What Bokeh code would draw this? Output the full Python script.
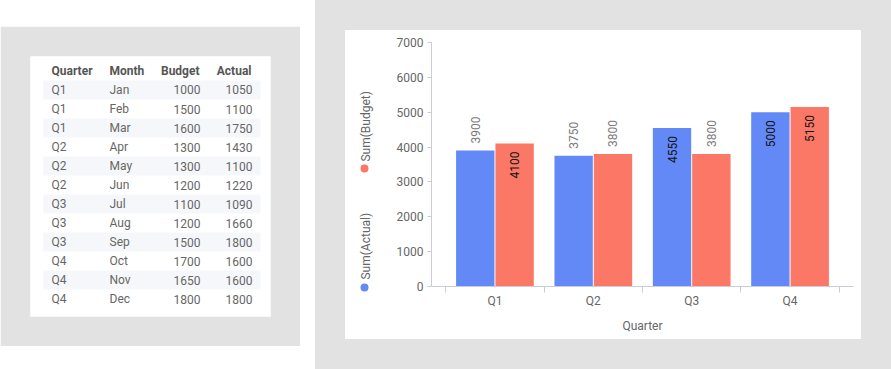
import numpy as np
from math import pi
from bokeh.plotting import figure
from bokeh.layouts import row, column
from bokeh.models import ColumnDataSource, Range1d, FixedTicker
from bokeh.core.properties import value
from bokeh.embed import file_html
from bokeh.resources import INLINE

# ---------------- data ----------------
quarters = ["Q1", "Q1", "Q1", "Q2", "Q2", "Q2", "Q3", "Q3", "Q3", "Q4", "Q4", "Q4"]
months = ["Jan", "Feb", "Mar", "Apr", "May", "Jun", "Jul", "Aug", "Sep", "Oct", "Nov", "Dec"]
budget = [1000, 1500, 1600, 1300, 1300, 1200, 1100, 1200, 1500, 1700, 1650, 1800]
actual = [1050, 1100, 1750, 1430, 1100, 1220, 1090, 1660, 1800, 1600, 1600, 1800]
table_headers = ["Quarter", "Month", "Budget", "Actual"]
quarter_labels = ["Q1", "Q2", "Q3", "Q4"]
series_names = ["Sum(Budget)", "Sum(Actual)"]
y_ticks = [0, 1000, 2000, 3000, 4000, 5000, 6000, 7000]
# label placement (style): True = label drawn inside the bar
actual_label_inside = [False, False, True, True]
budget_label_inside = [True, False, False, True]

# ---------------- style ----------------
FONT = "Roboto"
PANEL_BG = "#E2E2E2"
BAND = "#F6F7FB"
BLUE = "#6389F7"
RED = "#FB7866"
AXIS = "#CBCBD9"
TXT = "#666666"
HDR = "#555555"

# ---------------- table panel ----------------
n_rows = len(months)
t = figure(width=300, height=320, output_backend="svg", toolbar_location=None, tools="",
           x_range=Range1d(0, 240), y_range=Range1d(11.92, -1.763),
           x_axis_location=None, y_axis_location=None,
           min_border_left=30, min_border_right=30, min_border_top=30, min_border_bottom=30,
           border_fill_color=PANEL_BG, background_fill_color="white",
           outline_line_color=None, margin=(26, 15, 0, 0))
t.grid.visible = False

rows_idx = np.arange(n_rows)
band_rows = rows_idx[::2]
t.quad(left=12.7, right=230, top=band_rows - 0.5, bottom=band_rows + 0.5,
       fill_color=BAND, line_color=None)

txt_kw = dict(text_font=value(FONT), text_font_size="12px", text_baseline="middle")
t.text(x=[21, 79], y=[-1, -1], text=table_headers[:2], text_align="left",
       text_color=HDR, text_font_style="bold", **txt_kw)
t.text(x=[169, 221], y=[-1, -1], text=table_headers[2:], text_align="right",
       text_color=HDR, text_font_style="bold", **txt_kw)
t.text(x=21, y=rows_idx, text=quarters, text_align="left", text_color=TXT, **txt_kw)
t.text(x=79, y=rows_idx, text=months, text_align="left", text_color=TXT, **txt_kw)
t.text(x=170, y=rows_idx, text=[str(v) for v in budget], text_align="right", text_color=TXT, **txt_kw)
t.text(x=222, y=rows_idx, text=[str(v) for v in actual], text_align="right", text_color=TXT, **txt_kw)

# ---------------- aggregate ----------------
q_idx = np.arange(len(quarter_labels))
budget_sum = [sum(b for q, b in zip(quarters, budget) if q == ql) for ql in quarter_labels]
actual_sum = [sum(a for q, a in zip(quarters, actual) if q == ql) for ql in quarter_labels]

# ---------------- legend (rotated) ----------------
lg = figure(width=40, height=309, frame_width=40, frame_height=309,
            output_backend="svg", toolbar_location=None, tools="",
            x_range=Range1d(0, 40), y_range=Range1d(309, 0),
            x_axis_location=None, y_axis_location=None,
            min_border_left=0, min_border_right=0, min_border_top=0, min_border_bottom=0,
            border_fill_color=None, background_fill_color=None,
            outline_line_color=None, margin=(30, 0, 30, 30),
            styles={"background-color": "white"})
if "frame_align" in lg.properties():
    lg.frame_align = False
lg.grid.visible = False
lg.text(x=[20, 20], y=[131, 249], text=series_names, angle=pi / 2, text_align="left",
        text_color=TXT, **txt_kw)
lg.scatter(x=[19, 19], y=[138, 257], size=8, marker="circle", fill_color=[RED, BLUE], line_color=None)

# ---------------- chart ----------------
p = figure(width=476, height=309, output_backend="svg", toolbar_location=None, tools="",
           x_range=Range1d(-0.645, len(quarter_labels) - 1 + 0.645), y_range=Range1d(0, 7000),
           min_border_left=46, min_border_right=8, min_border_top=12, min_border_bottom=53,
           border_fill_color=None, background_fill_color=None, outline_line_color=None,
           margin=(30, 30, 30, 0), styles={"background-color": "white"})
if "frame_align" in p.properties():
    p.frame_align = False
p.grid.visible = False

off, bw = 0.2, 0.39
p.vbar(x=q_idx - off, top=actual_sum, width=bw, fill_color=BLUE, line_color=None)
p.vbar(x=q_idx + off, top=budget_sum, width=bw, fill_color=RED, line_color=None)

lab_x, lab_y, lab_t, lab_in = [], [], [], []
for i in range(len(quarter_labels)):
    lab_x += [q_idx[i] - off, q_idx[i] + off]
    lab_y += [actual_sum[i], budget_sum[i]]
    lab_t += [str(actual_sum[i]), str(budget_sum[i])]
    lab_in += [actual_label_inside[i], budget_label_inside[i]]
out_src = ColumnDataSource(dict(x=[x for x, f in zip(lab_x, lab_in) if not f],
                                y=[y for y, f in zip(lab_y, lab_in) if not f],
                                t=[s for s, f in zip(lab_t, lab_in) if not f]))
in_src = ColumnDataSource(dict(x=[x for x, f in zip(lab_x, lab_in) if f],
                               y=[y for y, f in zip(lab_y, lab_in) if f],
                               t=[s for s, f in zip(lab_t, lab_in) if f]))
p.text(x="x", y="y", text="t", source=out_src, angle=pi / 2, text_align="left",
       y_offset=-7, text_color="#7a7a7a", **txt_kw)
p.text(x="x", y="y", text="t", source=in_src, angle=pi / 2, text_align="right",
       y_offset=8, text_color="#111111", **txt_kw)

xa = p.xaxis[0]
xa.ticker = FixedTicker(ticks=list(q_idx), minor_ticks=list(np.arange(len(quarter_labels) + 1) - 0.5))
xa.major_label_overrides = {int(i): q for i, q in zip(q_idx, quarter_labels)}
xa.major_tick_line_color = None
xa.major_tick_out = 0
xa.major_tick_in = 0
xa.minor_tick_line_color = AXIS
xa.minor_tick_out = 6
xa.minor_tick_in = 0
xa.axis_line_color = AXIS
xa.major_label_standoff = 1
xa.major_label_text_font = FONT
xa.major_label_text_font_size = "12px"
xa.major_label_text_color = TXT
xa.axis_label = "Quarter"
xa.axis_label_text_font = FONT
xa.axis_label_text_font_size = "12px"
xa.axis_label_text_font_style = "normal"
xa.axis_label_text_color = TXT
xa.axis_label_standoff = 8

ya = p.yaxis[0]
ya.ticker = FixedTicker(ticks=y_ticks)
ya.axis_line_color = AXIS
ya.major_tick_line_color = AXIS
ya.major_tick_out = 4
ya.major_tick_in = 0
ya.minor_tick_line_color = None
ya.major_label_standoff = 4
ya.major_label_text_font = FONT
ya.major_label_text_font_size = "12px"
ya.major_label_text_color = TXT

right_panel = column(row(lg, p), styles={"background-color": PANEL_BG})
layout = row(t, right_panel)

open("out.html", "w").write(file_html(layout, INLINE))
